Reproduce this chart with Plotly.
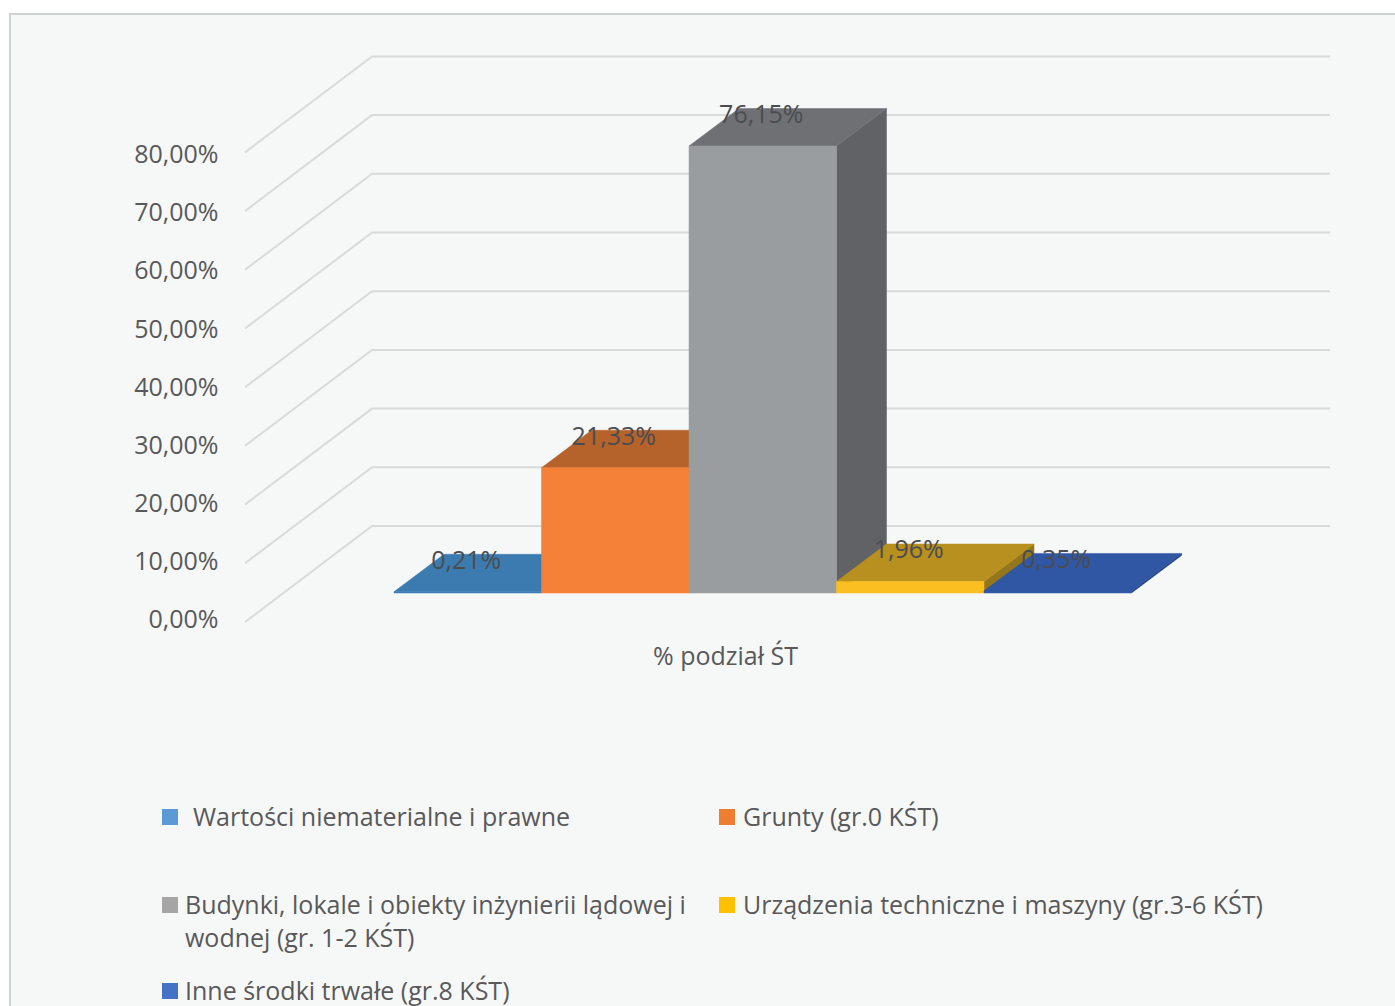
import plotly.graph_objects as go

# ---- data ----
categories = ["Wartości niematerialne i prawne", "Grunty (gr.0 KŚT)",
              "Budynki, lokale i obiekty inżynierii lądowej i<br>wodnej (gr. 1-2 KŚT)",
              "Urządzenia techniczne i maszyny (gr.3-6 KŚT)", "Inne środki trwałe (gr.8 KŚT)"]
values = [0.21, 21.33, 76.15, 1.96, 0.35]
value_labels = ["0,21%", "21,33%", "76,15%", "1,96%", "0,35%"]
tick_values = [0, 10, 20, 30, 40, 50, 60, 70, 80]
tick_labels = ["0,00%", "10,00%", "20,00%", "30,00%", "40,00%", "50,00%", "60,00%", "70,00%", "80,00%"]
axis_title = "% podział ŚT"

# ---- style ----
front_colors = ["#3f7fb5", "#f58037", "#9a9d9f", "#fcbf22", "#3259a6"]
top_colors = ["#3c7bb0", "#b5622b", "#6f7074", "#b8901f", "#2f57a3"]
side_colors = ["#2f5f88", "#94501f", "#616266", "#94761c", "#25427c"]
legend_colors = ["#5b9bd5", "#ed7d31", "#a5a5a5", "#ffc000", "#4472c4"]
TEXT = "#595959"
GRID = "#d8dbdb"
BG = "#f6f7f7"
W, H = 1395, 1006
FONT = "Open Sans"
FS = 25

# ---- oblique projection scale (one x unit = one bar width) ----
PX_X, PX_Y = 147.5, 5.87
X0_PX, Y0_PX = 394.0, 593.0
DX, DY = 50 / PX_X, 37.5 / PX_Y          # bar depth
WALL_FRONT_X, WALL_BACK_X, WALL_END_X = -1.010, -0.149, 6.346
WALL_FRONT_DY, WALL_BACK_DY = -4.94, 11.41
FLOOR = 0.0

fig = go.Figure()


def poly(xs, ys, color):
    fig.add_trace(go.Scatter(x=xs, y=ys, mode="lines", fill="toself", fillcolor=color,
                             line=dict(color=color, width=0.5), hoverinfo="skip", showlegend=False))


# gridlines on the side and back walls
for v in tick_values:
    fig.add_trace(go.Scatter(
        x=[WALL_FRONT_X, WALL_BACK_X, WALL_END_X],
        y=[v + WALL_FRONT_DY, v + WALL_BACK_DY, v + WALL_BACK_DY],
        mode="lines", line=dict(color=GRID, width=2), hoverinfo="skip", showlegend=False))

# bars, painted from left to right
for i, v in enumerate(values):
    l, r = i, i + 1
    poly([r, r + DX, r + DX, r, r], [FLOOR, FLOOR + DY, v + DY, v, FLOOR], side_colors[i])
    poly([l, r, r + DX, l + DX, l], [v, v, v + DY, v + DY, v], top_colors[i])
    poly([l, r, r, l, l], [FLOOR, FLOOR, v, v, FLOOR], front_colors[i])

# value labels
fig.add_trace(go.Scatter(
    x=[i + 0.49 for i in range(len(values))], y=[v + 5.0 for v in values],
    mode="text", text=value_labels, textposition="middle center",
    textfont=dict(family=FONT, size=FS, color="#4a4d50"), hoverinfo="skip", showlegend=False))

# value axis labels
fig.add_trace(go.Scatter(
    x=[WALL_FRONT_X - 0.18] * len(tick_values), y=[v * 0.9905 + WALL_FRONT_DY for v in tick_values],
    mode="text", text=tick_labels, textposition="middle left",
    textfont=dict(family=FONT, size=FS, color=TEXT), hoverinfo="skip", showlegend=False))


def px(x):
    return x / W


def py(y):
    return 1 - y / H


# category axis title
fig.add_annotation(x=px(725), y=py(655), xref="paper", yref="paper", text=axis_title, showarrow=False,
                   xanchor="center", yanchor="middle", font=dict(family=FONT, size=FS, color=TEXT))

# legend
legend_slots = [(170, 817, 191), (727, 817, 741), (170, 905, 183), (727, 905, 741), (170, 991, 183)]
shapes = [dict(type="rect", xref="paper", yref="paper", layer="below",
               x0=px(10), x1=1.01, y0=-0.01, y1=py(14),
               fillcolor=BG, line=dict(color="#cfd2d2", width=2))]
for i, (sx, sy, tx) in enumerate(legend_slots):
    shapes.append(dict(type="rect", xref="paper", yref="paper", x0=px(sx - 8), x1=px(sx + 8),
                       y0=py(sy + 8), y1=py(sy - 8), fillcolor=legend_colors[i], line=dict(width=0)))
    fig.add_annotation(x=px(tx), y=py(sy - 20), xref="paper", yref="paper", text=categories[i], showarrow=False,
                       xanchor="left", yanchor="top", align="left",
                       font=dict(family=FONT, size=FS, color=TEXT))

fig.update_layout(
    width=W, height=H, margin=dict(l=0, r=0, t=0, b=0, pad=0), autosize=False,
    paper_bgcolor="#ffffff", plot_bgcolor="rgba(0,0,0,0)", shapes=shapes, showlegend=False,
    xaxis=dict(visible=False, range=[-X0_PX / PX_X, (W - X0_PX) / PX_X], fixedrange=True),
    yaxis=dict(visible=False, range=[-(H - Y0_PX) / PX_Y, Y0_PX / PX_Y], fixedrange=True),
)
fig.write_html("out.html", config={"displayModeBar": False},
               post_script="document.body.style.margin='0';document.body.style.overflow='hidden';")
